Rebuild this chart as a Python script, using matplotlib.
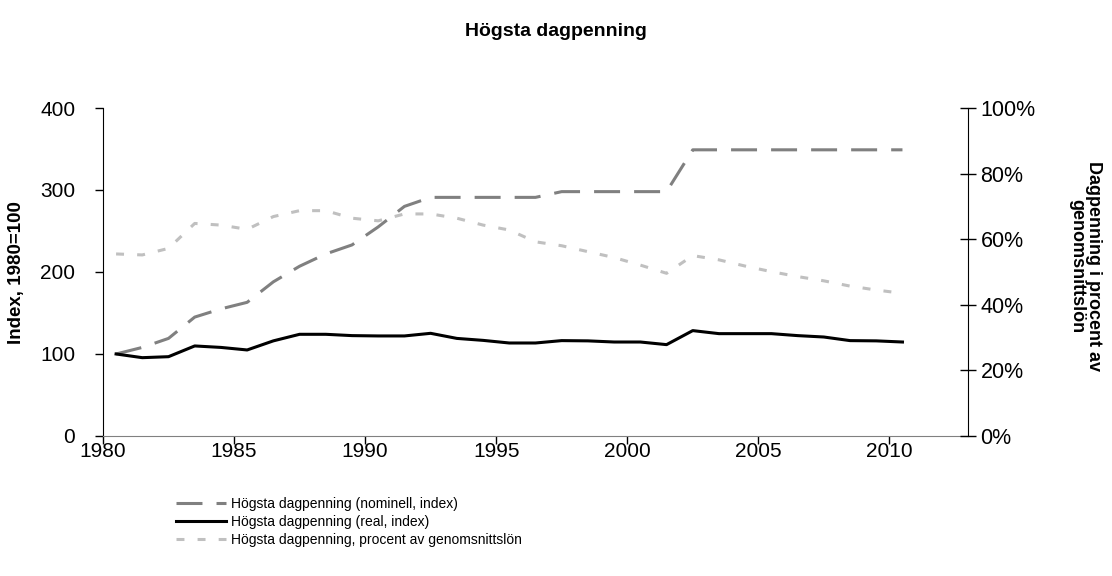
import matplotlib
matplotlib.use("Agg")
import matplotlib.pyplot as plt
import numpy as np

years = list(range(1980, 2011))
nominal = [100, 108, 119, 145, 155, 163, 188, 207, 222, 233, 255, 280, 291,
           291, 291, 291, 291, 298, 298, 298, 298, 298, 349, 349, 349, 349,
           349, 349, 349, 349, 349]
real = [100, 95.5, 96.7, 109.8, 108, 104.9, 116, 124, 124, 122.4, 122, 122,
        125.2, 119, 116.6, 113.4, 113.4, 116.3, 116, 114.6, 114.6, 111.4,
        128.5, 124.8, 124.8, 124.8, 122.4, 120.7, 116.3, 116, 114.6]
percent = [55.5, 55.2, 57.2, 64.8, 64.3, 63, 66.9, 68.7, 68.7, 66.4, 65.6,
           67.7, 67.7, 66.4, 64.3, 62.8, 59.2, 58.0, 56.2, 54.4, 52.1, 49.6,
           55, 53.7, 51.8, 50.1, 48.6, 47.3, 45.7, 44.5, 43.5]
xticks = [1980, 1985, 1990, 1995, 2000, 2005, 2010]
left_ticks = [0, 100, 200, 300, 400]
right_ticks = [0, 20, 40, 60, 80, 100]

labels = ["Högsta dagpenning (nominell, index)",
          "Högsta dagpenning (real, index)",
          "Högsta dagpenning, procent av genomsnittslön"]

plt.rcParams['font.family'] = ['Liberation Sans', 'DejaVu Sans']

fig = plt.figure(figsize=(11.12, 5.76), dpi=100)
ax = fig.add_axes([0.0926, 0.2431, 0.8705 - 0.0926, 0.8125 - 0.2431])
ax2 = ax.twinx()

xs = np.array(years) + 0.5
l1, = ax.plot(xs, nominal, color='#808080', lw=2.2, linestyle=(0, (8.5, 4.6)),
              solid_capstyle='butt', dash_capstyle='butt')
l2, = ax.plot(xs, real, color='black', lw=2.2)
l3, = ax2.plot(xs, percent, color='#c0c0c0', lw=2.2, linestyle=(0, (2.6, 4.3)),
               dash_capstyle='butt')

ax.set_xlim(1980, 2013)
ax.set_ylim(0, 400)
ax2.set_ylim(0, 100)
ax.set_xticks(xticks)
ax.set_xticklabels([str(y) for y in xticks])
ax.set_yticks(left_ticks)
ax2.set_yticks(right_ticks)
ax2.set_yticklabels([f"{t}%" for t in right_ticks])

for a in (ax, ax2):
    a.spines['top'].set_visible(False)
ax.spines['right'].set_visible(False)
ax2.spines['left'].set_visible(False)
ax2.spines['bottom'].set_visible(False)
ax.spines['bottom'].set_color('#808080')
ax.spines['left'].set_color('black')
ax2.spines['right'].set_color('black')

ax.tick_params(axis='x', direction='out', length=6, width=1, colors='black',
               labelsize=15, pad=-2)
ax.tick_params(axis='y', direction='out', length=6, width=1, labelsize=15, pad=14)
ax2.tick_params(axis='y', direction='inout', length=12, width=1, labelsize=15.5, pad=3)

fig.text(17 / 1112, 1 - 273 / 576, "Index, 1980=100", rotation=90,
         ha='center', va='center', fontsize=13.5, fontweight='bold')
fig.text(1085 / 1112, 1 - 266 / 576, "Dagpenning i procent av\ngenomsnittslön",
         rotation=-90, ha='center', va='center', multialignment='center',
         fontsize=13, fontweight='bold', linespacing=1.0)

fig.text(0.5, 1 - 31 / 576, "Högsta dagpenning", ha='center', va='center',
         fontsize=14, fontweight='bold')

fig.legend([l1, l2, l3], labels, loc='upper left',
           bbox_to_anchor=(176 / 1112, 1 - 497 / 576), frameon=False,
           fontsize=10, handlelength=3.6, handletextpad=0.35, labelspacing=0.3,
           borderaxespad=0, borderpad=0)

fig.savefig("out.png", dpi=100)
